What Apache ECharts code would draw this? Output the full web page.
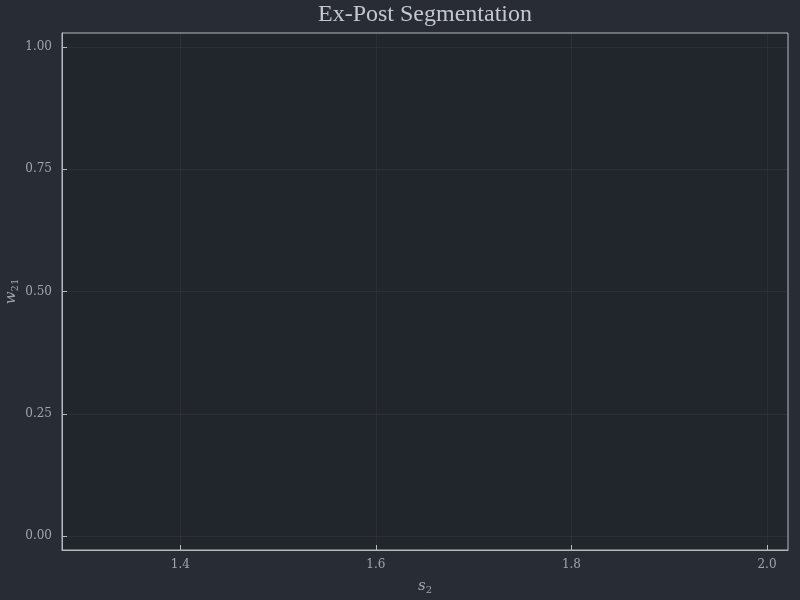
<!DOCTYPE html>
<html>
<head>
<meta charset="utf-8">
<script src="https://cdn.jsdelivr.net/npm/echarts@6/dist/echarts.min.js"></script>
<style>
html,body{margin:0;padding:0;background:#282c34;}
#c{width:800px;height:600px;}
</style>
</head>
<body>
<div id="c"></div>
<script>
const titleText = "Ex-Post Segmentation";
const xRange = [1.279, 2.0215];
const yRange = [-0.0286, 1.0286];
const xTicks = [1.4, 1.6, 1.8, 2.0];
const yTicks = [0, 0.25, 0.5, 0.75, 1.0];
const xTickLabels = ["1.4", "1.6", "1.8", "2.0"];
const yTickLabels = ["0.00", "0.25", "0.50", "0.75", "1.00"];

const font = "'DejaVu Serif', 'Liberation Serif', serif";
const labelColor = "#a0a4ad";
const frameColor = "#b4b8c0";
const gridColor = "rgba(255,255,255,0.05)";

const chart = echarts.init(document.getElementById('c'), null, {renderer: 'canvas'});
chart.setOption({
  backgroundColor: '#282c34',
  animation: false,
  title: {
    text: titleText, left: 420, textAlign: 'center', top: -2,
    textStyle: {color: '#c4c7ce', fontFamily: "'Liberation Serif', serif", fontSize: 24, fontWeight: 'normal'}
  },
  grid: {left: 62, right: 12, top: 33, bottom: 50, containLabel: false, outerBoundsMode: 'none',
    show: true, backgroundColor: '#21252c', borderColor: frameColor, borderWidth: 1},
  xAxis: {
    type: 'value', min: xRange[0], max: xRange[1],
    name: '{i|s}{sub|2}', nameLocation: 'middle', nameGap: 27,
    nameTextStyle: {color: labelColor, rich: {
      i: {fontFamily: font, fontStyle: 'italic', fontSize: 15, color: labelColor},
      sub: {fontFamily: font, fontSize: 10, color: labelColor, verticalAlign: 'bottom', padding: [8,0,0,0]}
    }},
    axisLine: {show: true, onZero: false, lineStyle: {color: frameColor}},
    axisTick: {show: true, inside: true, length: 5, lineStyle: {color: frameColor}, customValues: xTicks},
    axisLabel: {color: labelColor, fontFamily: font, fontSize: 12, margin: 9, customValues: xTicks,
      formatter: v => xTickLabels[xTicks.findIndex(t => Math.abs(t - v) < 1e-9)] ?? ''},
    splitLine: {show: false}
  },
  yAxis: {
    type: 'value', min: yRange[0], max: yRange[1],
    name: '{i|w}{sub|21}', nameLocation: 'middle', nameGap: 42, nameRotate: 90, nameMoveOverlap: false,
    nameTextStyle: {color: labelColor, rich: {
      i: {fontFamily: font, fontStyle: 'italic', fontSize: 15, color: labelColor},
      sub: {fontFamily: font, fontSize: 10, color: labelColor, padding: [8,0,0,0]}
    }},
    axisLine: {show: true, onZero: false, lineStyle: {color: frameColor}},
    axisTick: {show: true, inside: true, length: 5, lineStyle: {color: frameColor}, customValues: yTicks},
    axisLabel: {color: labelColor, fontFamily: font, fontSize: 12, margin: 10, customValues: yTicks,
      formatter: v => yTickLabels[yTicks.findIndex(t => Math.abs(t - v) < 1e-9)] ?? ''},
    splitLine: {show: false}
  },
  series: [{
    type: 'line', data: [], silent: true,
    markLine: {
      silent: true, symbol: 'none', label: {show: false},
      lineStyle: {color: gridColor, type: 'solid', width: 1},
      data: xTicks.map(v => ({xAxis: v})).concat(yTicks.map(v => ({yAxis: v})))
    }
  }]
});
</script>
</body>
</html>
